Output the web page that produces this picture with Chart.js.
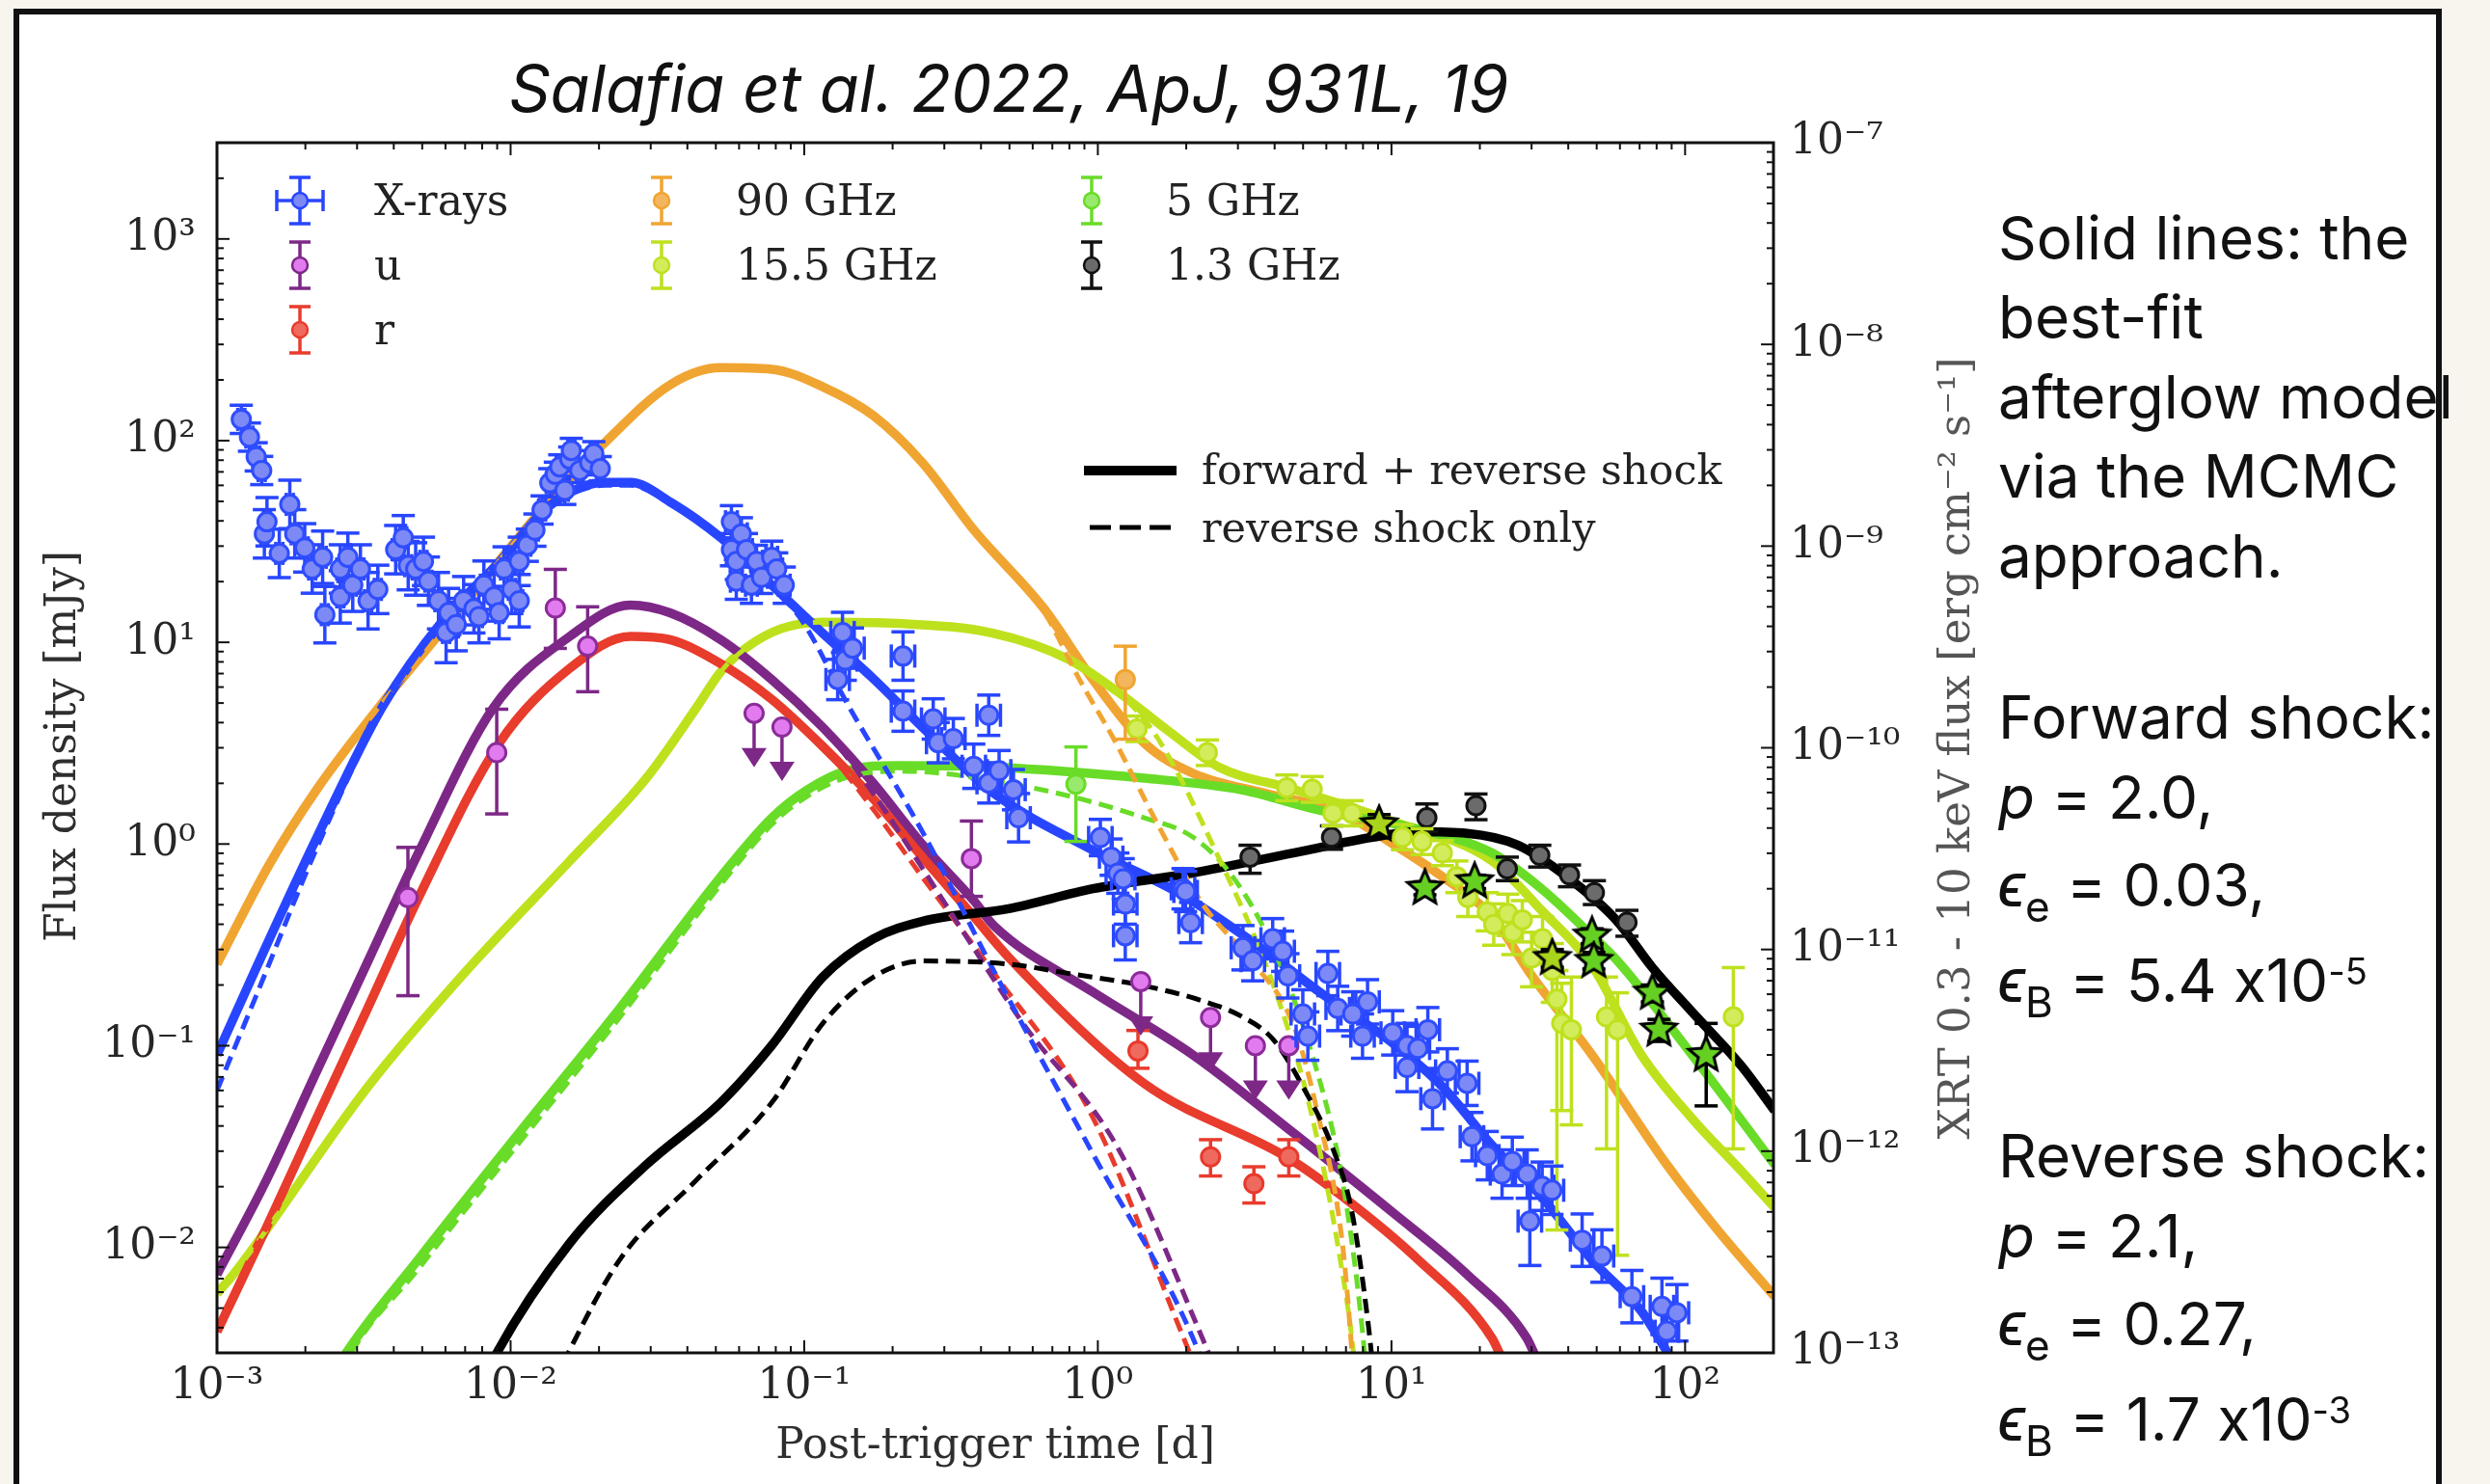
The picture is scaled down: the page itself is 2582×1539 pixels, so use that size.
<!DOCTYPE html>
<html lang="en">
<head>
<meta charset="utf-8">
<title>Afterglow light curve</title>
<script src="https://cdn.jsdelivr.net/npm/chart.js@4.4.1/dist/chart.umd.min.js"></script>
<style>
  html, body { margin: 0; padding: 0; }
  body { width: 2582px; height: 1539px; background: #f8f5ee; position: relative; overflow: hidden; }
  #panel { position: absolute; left: 14px; top: 9px; width: 2518px; height: 1600px; box-sizing: border-box; border: 6px solid #111; background: #fff; }
  #plot { position: absolute; left: 0; top: 0; }
  .ref { position: absolute; left: 1046px; top: 58px; transform: translateX(-50%); font: italic 67px Inter, "Noto Sans", "DejaVu Sans", sans-serif; line-height: 1; color: #111; white-space: nowrap; }
  .note { position: absolute; left: 2072px; font: 62px Inter, "Noto Sans", "DejaVu Sans", sans-serif; line-height: 1; color: #111; white-space: nowrap; font-feature-settings: "calt" 0; }
  .note i { font-style: italic; }
  .note .sb { position: relative; top: 16px; font-size: 44px; }
  .note .sp { position: relative; top: -18px; font-size: 38px; }
</style>
</head>
<body>
<div id="panel"></div>
<canvas id="plot" width="2582" height="1539"></canvas>
<div class="ref">Salafia et al. 2022, ApJ, 931L, 19</div>
<div class="note" style="top:216px">Solid lines: the</div>
<div class="note" style="top:298px">best-fit</div>
<div class="note" style="top:381px">afterglow model</div>
<div class="note" style="top:463px">via the MCMC</div>
<div class="note" style="top:546px">approach.</div>
<div class="note" style="top:713px">Forward shock:</div>
<div class="note" style="top:796px"><i>p</i> = 2.0,</div>
<div class="note" style="top:887px"><i>ϵ</i><span class="sb">e</span> = 0.03,</div>
<div class="note" style="top:986px"><i>ϵ</i><span class="sb">B</span> = 5.4 x10<span class="sp">-5</span></div>
<div class="note" style="top:1168px">Reverse shock:</div>
<div class="note" style="top:1251px"><i>p</i> = 2.1,</div>
<div class="note" style="top:1342px"><i>ϵ</i><span class="sb">e</span> = 0.27,</div>
<div class="note" style="top:1441px"><i>ϵ</i><span class="sb">B</span> = 1.7 x10<span class="sp">-3</span></div>
<script>
// ---- axis ticks ----
const timeDecades = [1e-3, 1e-2, 1e-1, 1, 10, 100];
const timeTickLabels = ['10⁻³', '10⁻²', '10⁻¹', '10⁰', '10¹', '10²'];
const fluxDecades = [1e-2, 1e-1, 1, 10, 100, 1000];
const fluxTickLabels = ['10⁻²', '10⁻¹', '10⁰', '10¹', '10²', '10³'];
const xrtDecades = [1e-13, 1e-12, 1e-11, 1e-10, 1e-9, 1e-8, 1e-7];
const xrtTickLabels = ['10⁻¹³', '10⁻¹²', '10⁻¹¹', '10⁻¹⁰', '10⁻⁹', '10⁻⁸', '10⁻⁷'];

// ---- XRT 0.3-10 keV light curve (days, erg cm^-2 s^-1, errors in dex) ----
const xrayTime = [
  0.00121, 0.00129, 0.00136, 0.00142, 0.00145, 0.00148, 0.00163, 0.00177, 0.00184, 0.00199,
  0.00211, 0.00229, 0.00233, 0.00263, 0.00263, 0.00279, 0.0029, 0.00308, 0.00327, 0.00353,
  0.00406, 0.00431, 0.00448, 0.00475, 0.00505, 0.00525, 0.00568, 0.00603, 0.00615, 0.00653,
  0.00692, 0.0075, 0.0078, 0.00811, 0.00879, 0.00914, 0.0095, 0.0101, 0.0107, 0.0107,
  0.0114, 0.0121, 0.0128, 0.0136, 0.0142, 0.0147, 0.0153, 0.0159, 0.0161, 0.0172,
  0.0186, 0.0192, 0.0202,
  0.0565, 0.0565, 0.0587, 0.0587, 0.0611, 0.0636, 0.0661, 0.0688, 0.0716, 0.0775, 0.0806, 0.0855,
  0.130, 0.135, 0.138, 0.146, 0.217, 0.217, 0.275, 0.286, 0.322, 0.378, 0.425, 0.425, 0.461, 0.516, 0.537,
  1.02, 1.11, 1.17, 1.22, 1.24, 1.24, 1.95, 1.99, 2.07, 3.12, 3.37, 3.94, 4.26, 4.44, 4.99, 5.19, 6.07, 6.56, 7.38, 7.97, 8.29,
  10.1, 11.3, 11.3, 12.3, 13.3, 13.8, 15.5, 18.1, 18.8, 21.2, 23.8, 25.8, 29.0, 29.6, 32.6, 35.2, 44.6, 52.1, 65.9, 83.4, 86.7, 93.8
];
const xrayFlux = [
  4.25e-9, 3.47e-9, 2.77e-9, 2.37e-9, 1.15e-9, 1.32e-9, 9.2e-10, 1.61e-9, 1.15e-9, 9.8e-10,
  7.7e-10, 8.8e-10, 4.57e-10, 7.7e-10, 5.6e-10, 8.8e-10, 6.4e-10, 7.7e-10, 5.36e-10, 6.1e-10,
  9.6e-10, 1.1e-9, 8.0e-10, 7.7e-10, 8.4e-10, 6.7e-10, 5.36e-10, 3.73e-10, 4.68e-10, 4.08e-10,
  5.36e-10, 4.89e-10, 4.47e-10, 6.4e-10, 5.6e-10, 4.68e-10, 7.7e-10, 6.1e-10, 8.4e-10, 5.36e-10,
  1.01e-9, 1.2e-9, 1.51e-9, 2.06e-9, 2.27e-9, 2.47e-9, 1.89e-9, 2.7e-9, 2.98e-9, 2.37e-9,
  2.59e-9, 2.87e-9, 2.42e-9,
  1.32e-9, 9.6e-10, 8.4e-10, 6.7e-10, 1.15e-9, 9.6e-10, 6.4e-10, 8.4e-10, 7.0e-10, 8.8e-10, 7.7e-10, 6.4e-10,
  2.18e-10, 3.73e-10, 2.72e-10, 3.12e-10, 2.85e-10, 1.52e-10, 1.39e-10, 1.06e-10, 1.11e-10, 8.1e-11, 1.45e-10, 6.7e-11, 7.7e-11, 6.2e-11, 4.5e-11,
  3.59e-11, 2.87e-11, 2.39e-11, 2.24e-11, 1.68e-11, 1.17e-11, 2.0e-11, 1.94e-11, 1.36e-11, 1.02e-11, 8.8e-12, 1.13e-11, 9.8e-12, 7.4e-12, 4.79e-12, 3.72e-12, 7.6e-12, 5.1e-12, 4.79e-12, 3.72e-12, 5.5e-12,
  3.86e-12, 3.34e-12, 2.6e-12, 3.23e-12, 4.0e-12, 1.82e-12, 2.5e-12, 2.17e-12, 1.18e-12, 9.5e-13, 7.7e-13, 8.9e-13, 7.7e-13, 4.5e-13, 6.7e-13, 6.4e-13, 3.62e-13, 3.02e-13, 1.9e-13, 1.7e-13, 1.28e-13, 1.58e-13
];
const xrayFluxErr = [
  0.07, 0.07, 0.07, 0.07, 0.12, 0.12, 0.12, 0.12, 0.12, 0.12,
  0.12, 0.13, 0.14, 0.12, 0.13, 0.12, 0.13, 0.12, 0.14, 0.12,
  0.12, 0.11, 0.12, 0.13, 0.12, 0.12, 0.14, 0.15, 0.12, 0.13,
  0.12, 0.12, 0.13, 0.12, 0.12, 0.13, 0.11, 0.12, 0.12, 0.13,
  0.08, 0.08, 0.07, 0.07, 0.06, 0.06, 0.07, 0.06, 0.06, 0.06,
  0.06, 0.06, 0.06,
  0.08, 0.08, 0.09, 0.09, 0.08, 0.08, 0.09, 0.08, 0.08, 0.08, 0.08, 0.09,
  0.10, 0.10, 0.10, 0.10, 0.12, 0.10, 0.10, 0.10, 0.10, 0.11, 0.10, 0.10, 0.10, 0.10, 0.12,
  0.09, 0.09, 0.10, 0.10, 0.10, 0.12, 0.10, 0.10, 0.10, 0.11, 0.10, 0.10, 0.10, 0.11, 0.12, 0.12, 0.11, 0.11, 0.11, 0.11, 0.11,
  0.11, 0.11, 0.12, 0.11, 0.11, 0.15, 0.11, 0.11, 0.12, 0.12, 0.12, 0.12, 0.12, 0.22, 0.12, 0.12, 0.13, 0.13, 0.13, 0.14, 0.14, 0.14
];
const xrayTimeErr = [
  0.012, 0.012, 0.012, 0.012, 0.012, 0.012, 0.012, 0.012, 0.012, 0.012,
  0.012, 0.012, 0.012, 0.012, 0.012, 0.012, 0.012, 0.012, 0.012, 0.012,
  0.012, 0.012, 0.012, 0.012, 0.012, 0.012, 0.012, 0.012, 0.012, 0.012,
  0.012, 0.012, 0.012, 0.012, 0.012, 0.012, 0.012, 0.012, 0.012, 0.012,
  0.012, 0.012, 0.012, 0.012, 0.012, 0.012, 0.012, 0.012, 0.012, 0.012,
  0.012, 0.012, 0.012,
  0.02, 0.02, 0.02, 0.02, 0.02, 0.02, 0.02, 0.02, 0.02, 0.02, 0.02, 0.02,
  0.04, 0.04, 0.04, 0.04, 0.04, 0.04, 0.04, 0.04, 0.04, 0.04, 0.04, 0.04, 0.04, 0.04, 0.04,
  0.04, 0.04, 0.04, 0.04, 0.04, 0.04, 0.04, 0.04, 0.04, 0.04, 0.04, 0.04, 0.04, 0.04, 0.04, 0.04, 0.04, 0.04, 0.04, 0.04, 0.04,
  0.04, 0.04, 0.04, 0.04, 0.04, 0.04, 0.04, 0.04, 0.04, 0.04, 0.04, 0.04, 0.04, 0.04, 0.04, 0.04, 0.04, 0.04, 0.04, 0.04, 0.04, 0.04
];

// ---- optical u and r (mJy) ----
const uTime = [0.00447, 0.00897, 0.0142, 0.0183, 0.371];
const uFlux = [0.543, 2.84, 14.8, 9.57, 0.847];
const uLow = [0.177, 1.41, 9.33, 5.69, 0.55];
const uHigh = [0.962, 4.66, 23.0, 15.0, 1.30];
const uLimitTime = [0.0675, 0.0840, 1.40, 2.42, 3.44, 4.47];
const uLimitFlux = [4.45, 3.80, 0.208, 0.138, 0.100, 0.100];

const rTime = [1.37, 2.42, 3.40, 4.47];
const rFlux = [0.0942, 0.0281, 0.0207, 0.0281];
const rLow = [0.0773, 0.0226, 0.0166, 0.0226];
const rHigh = [0.119, 0.0342, 0.0251, 0.0342];

// ---- radio / mm (mJy) ----
const ghz90Time = [1.24];
const ghz90Flux = [6.53];
const ghz90Low = [3.31];
const ghz90High = [9.57];

const ghz15Time = [1.36, 2.36, 4.40, 5.37, 6.32, 7.34, 10.9, 12.7, 14.9, 16.7, 18.2, 21.2, 22.3, 24.9, 25.9, 27.9, 30.0, 32.7, 35.3, 36.6, 38.0, 41.0, 54.0, 58.9, 146];
const ghz15Flux = [3.72, 2.84, 1.90, 1.87, 1.42, 1.42, 1.08, 1.03, 0.903, 0.689, 0.543, 0.461, 0.399, 0.453, 0.365, 0.421, 0.272, 0.339, 0.236, 0.170, 0.129, 0.120, 0.139, 0.120, 0.139];
const ghz15Low = [3.22, 2.45, 1.64, 1.61, 1.23, 1.23, 0.937, 0.887, 0.781, 0.574, 0.437, 0.371, 0.315, 0.352, 0.283, 0.327, 0.196, 0.254, 0.164, 0.0122, 0.0477, 0.0405, 0.0308, 0.00914, 0.0308];
const ghz15High = [4.31, 3.28, 2.20, 2.16, 1.64, 1.64, 1.25, 1.19, 1.04, 0.824, 0.652, 0.574, 0.505, 0.564, 0.461, 0.524, 0.365, 0.437, 0.321, 0.236, 0.204, 0.219, 0.219, 0.183, 0.244];
const ghz15StarTime = [9.08, 35.3];
const ghz15StarFlux = [1.25, 0.272];
const ghz15StarLow = [1.12, 0.245];
const ghz15StarHigh = [1.40, 0.30];

const ghz5Time = [0.842];
const ghz5Flux = [1.98];
const ghz5Low = [1.03];
const ghz5High = [3.03];
const ghz5StarTime = [13.0, 19.2, 48.2, 48.9, 77.4, 81.5, 118];
const ghz5StarFlux = [0.605, 0.652, 0.351, 0.263, 0.183, 0.120, 0.090];
const ghz5StarLow = [0.56, 0.60, 0.32, 0.24, 0.165, 0.105, 0.0503];
const ghz5StarHigh = [0.65, 0.70, 0.38, 0.29, 0.20, 0.135, 0.129];

const ghz1Time = [3.30, 6.25, 13.2, 19.4, 24.8, 32.0, 40.4, 49.1, 63.4];
const ghz1Flux = [0.861, 1.08, 1.35, 1.55, 0.753, 0.879, 0.703, 0.574, 0.409];
const ghz1Low = [0.716, 0.942, 1.15, 1.32, 0.658, 0.769, 0.614, 0.501, 0.349];
const ghz1High = [0.986, 1.23, 1.58, 1.77, 0.861, 0.986, 0.787, 0.658, 0.469];

// ---- best-fit model curves [days, flux] ----
const modelXray = [[0.001, 3.0e-12], [0.00136, 8.1e-12], [0.00219, 3.6e-11], [0.00366, 1.6e-10], [0.00587, 4.27e-10], [0.0092, 8.4e-10], [0.01355, 1.58e-9], [0.021, 2.07e-9], [0.0256, 2.07e-9], [0.0353, 1.64e-9], [0.052, 1.1e-9], [0.0776, 6.4e-10], [0.1156, 3.7e-10], [0.172, 2.2e-10], [0.2535, 1.26e-10], [0.439, 6.0e-11], [0.962, 3.1e-11], [1.96, 1.85e-11], [3.43, 1.07e-11], [5.65, 6.2e-12], [10.0, 3.47e-12], [14.9, 2.09e-12], [22.0, 1.07e-12], [32.4, 5.96e-13], [48.2, 2.88e-13], [71.0, 1.61e-13], [87.7, 9.9e-14], [110, 6.0e-14]];
const modelXrayRS = [[0.001, 2.0e-12], [0.00136, 5.9e-12], [0.00219, 3.2e-11], [0.00366, 1.55e-10], [0.00587, 4.2e-10], [0.0092, 8.2e-10], [0.01355, 1.55e-9], [0.021, 2.0e-9], [0.0256, 2.0e-9], [0.0353, 1.6e-9], [0.052, 1.08e-9], [0.0776, 6.3e-10], [0.0983, 4.27e-10], [0.141, 1.63e-10], [0.2535, 3.8e-11], [0.439, 8.0e-12], [0.962, 9.7e-13], [2.11, 1.18e-13], [2.6, 5e-14]];
const modelU = [[0.001, 0.00734], [0.00147, 0.0214], [0.00219, 0.075], [0.00327, 0.263], [0.00488, 0.92], [0.00875, 4.75], [0.0159, 10.7], [0.0256, 15.3], [0.0349, 14.0], [0.052, 10.3], [0.0776, 6.53], [0.1156, 3.79], [0.171, 2.02], [0.2535, 0.988], [0.378, 0.524], [0.444, 0.392], [0.962, 0.1845], [2.11, 0.090], [4.63, 0.037], [10.1, 0.0149], [18.1, 0.00734], [28.9, 0.00355], [31.2, 0.0028]];
const modelURS = [[0.001, 0.00734], [0.00147, 0.0214], [0.00219, 0.075], [0.00327, 0.263], [0.00488, 0.92], [0.00875, 4.75], [0.0159, 10.7], [0.0256, 15.3], [0.0349, 14.0], [0.052, 10.3], [0.0776, 6.53], [0.1156, 3.79], [0.171, 1.80], [0.2535, 0.753], [0.378, 0.304], [0.556, 0.129], [1.175, 0.0308], [2.27, 0.00355], [2.48, 0.0026]];
const modelR = [[0.001, 0.00382], [0.00147, 0.01245], [0.00219, 0.044], [0.00327, 0.155], [0.00488, 0.55], [0.00914, 3.16], [0.0159, 7.43], [0.0256, 10.7], [0.0349, 10.3], [0.052, 7.83], [0.0776, 5.21], [0.1156, 3.05], [0.171, 1.69], [0.2535, 0.855], [0.378, 0.437], [0.494, 0.277], [1.44, 0.0649], [4.46, 0.0277], [6.81, 0.0179], [12.2, 0.00881], [22.0, 0.00355], [23.8, 0.0028]];
const modelRRS = [[0.001, 0.00382], [0.00147, 0.01245], [0.00219, 0.044], [0.00327, 0.155], [0.00488, 0.55], [0.00914, 3.16], [0.0159, 7.43], [0.0256, 10.7], [0.0349, 10.3], [0.052, 7.83], [0.0776, 5.21], [0.1156, 3.05], [0.171, 1.50], [0.2535, 0.68], [0.442, 0.23], [0.962, 0.044], [1.96, 0.00355], [2.14, 0.0026]];
const model90 = [[0.001, 0.254], [0.00151, 0.796], [0.00219, 1.87], [0.00361, 4.89], [0.00545, 10.1], [0.00864, 22.9], [0.01337, 49.1], [0.0202, 92.7], [0.0353, 191], [0.052, 230], [0.0776, 226], [0.1156, 185], [0.172, 133], [0.2535, 77.3], [0.378, 36.1], [0.653, 14.8], [0.962, 6.53], [1.44, 3.16], [2.11, 2.24], [3.79, 1.77], [6.81, 1.42], [9.31, 1.08], [14.9, 0.689], [22.0, 0.437], [30.0, 0.223], [48.2, 0.090], [86.7, 0.0257], [127.6, 0.01245], [202, 0.0057]];
const model90RS = [[0.001, 0.254], [0.00151, 0.796], [0.00219, 1.87], [0.00361, 4.89], [0.00545, 10.1], [0.00864, 22.9], [0.01337, 49.1], [0.0202, 92.7], [0.0353, 191], [0.052, 230], [0.0776, 226], [0.1156, 185], [0.172, 133], [0.2535, 77.3], [0.378, 36.1], [0.653, 14.3], [0.871, 6.43], [1.13, 3.34], [1.60, 1.25], [2.27, 0.505], [3.11, 0.293], [4.63, 0.127], [5.58, 0.0476], [6.81, 0.0104], [7.34, 0.00296], [7.62, 0.00126]];
const model15 = [[0.001, 0.0059], [0.00116, 0.00762], [0.00327, 0.0627], [0.00716, 0.240], [0.0159, 0.824], [0.029, 2.12], [0.0432, 4.80], [0.052, 7.16], [0.0635, 9.4], [0.0836, 11.7], [0.1156, 12.6], [0.210, 12.4], [0.439, 11.1], [0.788, 8.28], [1.175, 5.65], [1.73, 3.66], [2.58, 2.41], [4.63, 1.87], [10.0, 1.30], [22.0, 0.824], [32.4, 0.470], [48.2, 0.249], [71.0, 0.090], [105.7, 0.0435], [155.6, 0.0239], [202, 0.0157]];
const model15RS = [[0.001, 0.0059], [0.00116, 0.00762], [0.00327, 0.0627], [0.00716, 0.240], [0.0159, 0.824], [0.029, 2.12], [0.0432, 4.80], [0.052, 7.16], [0.0635, 9.4], [0.0836, 11.7], [0.1156, 12.6], [0.210, 12.4], [0.439, 11.1], [0.788, 8.28], [1.175, 5.65], [1.60, 3.34], [2.58, 0.855], [3.94, 0.204], [5.31, 0.0476], [6.64, 0.0093], [7.43, 0.00296], [7.80, 0.00126]];
const model5 = [[0.0024, 0.0021], [0.00268, 0.00282], [0.00488, 0.00881], [0.0107, 0.037], [0.0237, 0.155], [0.052, 0.689], [0.0776, 1.35], [0.102, 1.85], [0.141, 2.32], [0.208, 2.45], [0.439, 2.41], [1.44, 2.12], [3.11, 1.85], [5.58, 1.48], [12.2, 1.19], [22.0, 0.903], [32.7, 0.594], [48.2, 0.351], [58.9, 0.263], [105.7, 0.090], [202, 0.0257]];
const model5RS = [[0.0025, 0.0019], [0.00268, 0.0025], [0.00488, 0.0079], [0.0107, 0.033], [0.0237, 0.14], [0.052, 0.63], [0.0776, 1.25], [0.102, 1.72], [0.141, 2.15], [0.208, 2.3], [0.556, 1.94], [1.44, 1.35], [2.11, 1.08], [2.88, 0.689], [3.89, 0.321], [5.37, 0.090], [6.81, 0.0214], [8.01, 0.00355], [8.32, 0.0018]];
const model1 = [[0.008, 0.0021], [0.00875, 0.0028], [0.0159, 0.0105], [0.029, 0.0257], [0.052, 0.0523], [0.0776, 0.1005], [0.1156, 0.219], [0.172, 0.339], [0.2535, 0.414], [0.497, 0.478], [0.962, 0.600], [2.11, 0.719], [4.63, 0.903], [8.63, 1.08], [12.2, 1.15], [18.1, 1.13], [26.9, 0.988], [39.5, 0.689], [58.1, 0.422], [77.4, 0.244], [105.7, 0.147], [155.6, 0.0793], [202, 0.0476]];
const model1RS = [[0.014, 0.0021], [0.01535, 0.0028], [0.0237, 0.00881], [0.0427, 0.0214], [0.0776, 0.0523], [0.1156, 0.129], [0.172, 0.219], [0.2535, 0.263], [0.497, 0.254], [0.798, 0.228], [1.44, 0.198], [2.27, 0.167], [3.11, 0.139], [3.94, 0.108], [4.99, 0.0627], [6.32, 0.0308], [7.34, 0.0149], [8.32, 0.00426], [8.63, 0.0026]];

// ---- colours ----
const BLUE = '#2846ff', PURPLE = '#7d2887', RED = '#e83c2d', ORANGE = '#f0a532',
      LIME = '#bee11e', GREEN = '#69dc28', BLACK = '#000000';

// ---- helpers ----
function logTicks(min, max) {
  const out = [];
  for (let e = Math.floor(Math.log10(min)); e <= Math.ceil(Math.log10(max)); e++) {
    for (let m = 1; m <= 9; m++) {
      const v = m * Math.pow(10, e);
      if (v >= min * 0.999999 && v <= max * 1.000001) out.push({ value: v });
    }
  }
  return out;
}
function decadeLabel(v, decades, labels) {
  const i = decades.findIndex(d => Math.abs(Math.log10(v) - Math.log10(d)) < 1e-6);
  return i < 0 ? '' : labels[i];
}
function isDecade(v) {
  const l = Math.log10(v);
  return Math.abs(l - Math.round(l)) < 1e-6;
}
function seg(ctx, x0, y0, x1, y1) {
  ctx.beginPath(); ctx.moveTo(x0, y0); ctx.lineTo(x1, y1); ctx.stroke();
}
function withBars(t, f, lo, hi) {
  return t.map((x, i) => ({ x, y: f[i], lo: lo[i], hi: hi[i] }));
}
function starImage(fill, r) {
  const c = document.createElement('canvas');
  const s = Math.ceil(2 * r + 6);
  c.width = c.height = s;
  const g = c.getContext('2d');
  g.beginPath();
  for (let k = 0; k < 10; k++) {
    const rad = k % 2 ? r * 0.45 : r;
    const a = -Math.PI / 2 + k * Math.PI / 5;
    g.lineTo(s / 2 + rad * Math.cos(a), s / 2 + rad * Math.sin(a));
  }
  g.closePath();
  g.fillStyle = fill; g.fill();
  g.lineWidth = 3; g.strokeStyle = '#000'; g.stroke();
  return c;
}

const xrayPoints = xrayTime.map((t, i) => ({
  x: t, y: xrayFlux[i],
  lo: xrayFlux[i] / Math.pow(10, xrayFluxErr[i]), hi: xrayFlux[i] * Math.pow(10, xrayFluxErr[i]),
  tlo: t / Math.pow(10, xrayTimeErr[i]), thi: t * Math.pow(10, xrayTimeErr[i])
}));

function modelLine(label, pts, color, dashed, order, axis) {
  return {
    type: 'line', label, data: pts.map(p => ({ x: p[0], y: p[1] })),
    borderColor: color, borderWidth: dashed ? 5 : 9.5, borderDash: dashed ? [15, 8] : [],
    pointRadius: 0, fill: false, cubicInterpolationMode: 'monotone',
    yAxisID: axis || 'y', order, clip: 0
  };
}
function pointSet(label, data, fill, edge, bar, order, extra) {
  return Object.assign({
    type: 'scatter', label, data, yAxisID: 'y', order, clip: 0,
    backgroundColor: fill, borderColor: edge, borderWidth: 3, pointRadius: 9.5,
    barColor: bar
  }, extra || {});
}

const datasets = [
  // data points
  pointSet('X-rays', xrayPoints, '#7d8af5', '#2f4dff', BLUE, 1, { yAxisID: 'y2' }),
  pointSet('u', withBars(uTime, uFlux, uLow, uHigh), '#e27bf0', '#8b2c98', PURPLE, 2),
  pointSet('u (upper limits)', uLimitTime.map((x, i) => ({ x, y: uLimitFlux[i] })), '#e27bf0', '#8b2c98', PURPLE, 2, { upperLimit: true }),
  pointSet('r', withBars(rTime, rFlux, rLow, rHigh), '#ef6a5e', '#e8392c', RED, 2),
  pointSet('90 GHz', withBars(ghz90Time, ghz90Flux, ghz90Low, ghz90High), '#f3b65e', ORANGE, ORANGE, 2),
  pointSet('15.5 GHz', withBars(ghz15Time, ghz15Flux, ghz15Low, ghz15High), '#d3ec5c', LIME, LIME, 2),
  pointSet('5 GHz', withBars(ghz5Time, ghz5Flux, ghz5Low, ghz5High), '#98ea6c', GREEN, GREEN, 2),
  pointSet('1.3 GHz', withBars(ghz1Time, ghz1Flux, ghz1Low, ghz1High), '#6b6b6b', '#111', '#111', 2),
  pointSet('15.5 GHz (stars)', withBars(ghz15StarTime, ghz15StarFlux, ghz15StarLow, ghz15StarHigh), LIME, '#000', '#000', 0,
    { pointStyle: starImage('#a9d41c', 19) }),
  pointSet('5 GHz (stars)', withBars(ghz5StarTime, ghz5StarFlux, ghz5StarLow, ghz5StarHigh), GREEN, '#000', '#000', 0,
    { pointStyle: starImage('#66d022', 19) }),
  // reverse shock only
  modelLine('X-rays RS', modelXrayRS, BLUE, true, 10, 'y2'),
  modelLine('u RS', modelURS, PURPLE, true, 10),
  modelLine('r RS', modelRRS, RED, true, 10),
  modelLine('90 GHz RS', model90RS, ORANGE, true, 10),
  modelLine('15.5 GHz RS', model15RS, LIME, true, 10),
  modelLine('5 GHz RS', model5RS, GREEN, true, 10),
  modelLine('1.3 GHz RS', model1RS, BLACK, true, 9),
  // forward + reverse shock
  modelLine('1.3 GHz model', model1, BLACK, false, 20),
  modelLine('X-rays model', modelXray, BLUE, false, 21, 'y2'),
  modelLine('r model', modelR, RED, false, 22),
  modelLine('u model', modelU, PURPLE, false, 23),
  modelLine('5 GHz model', model5, GREEN, false, 24),
  modelLine('15.5 GHz model', model15, LIME, false, 25),
  modelLine('90 GHz model', model90, ORANGE, false, 26)
];

// error bars and upper-limit arrows, drawn under each marker set
const errorBars = {
  id: 'errorBars',
  beforeDatasetDraw(chart, args) {
    const ds = chart.data.datasets[args.index];
    if (!ds.barColor) return;
    const { ctx, chartArea: a } = chart;
    const xs = chart.scales.x, ys = chart.scales[ds.yAxisID];
    const cap = 12;
    ctx.save();
    ctx.beginPath(); ctx.rect(a.left, a.top, a.right - a.left, a.bottom - a.top); ctx.clip();
    ctx.strokeStyle = ds.barColor; ctx.fillStyle = ds.barColor; ctx.lineWidth = 3.5;
    ds.data.forEach(d => {
      const px = xs.getPixelForValue(d.x), py = ys.getPixelForValue(d.y);
      if (ds.upperLimit) {
        const tip = py + 56;
        seg(ctx, px, py, px, tip - 18);
        ctx.beginPath(); ctx.moveTo(px - 13, tip - 20); ctx.lineTo(px + 13, tip - 20); ctx.lineTo(px, tip); ctx.closePath(); ctx.fill();
        return;
      }
      if (d.lo !== undefined) {
        const y0 = ys.getPixelForValue(d.lo), y1 = ys.getPixelForValue(d.hi);
        seg(ctx, px, y0, px, y1);
        seg(ctx, px - cap, y0, px + cap, y0);
        seg(ctx, px - cap, y1, px + cap, y1);
      }
      if (d.tlo !== undefined) {
        const x0 = xs.getPixelForValue(d.tlo), x1 = xs.getPixelForValue(d.thi);
        seg(ctx, x0, py, x1, py);
        seg(ctx, x0, py - cap, x0, py + cap);
        seg(ctx, x1, py - cap, x1, py + cap);
      }
    });
    ctx.restore();
  }
};

// spines, inward ticks, axis titles and the two legends
const decorations = {
  id: 'decorations',
  afterDraw(chart) {
    const { ctx, chartArea: a, scales } = chart;
    ctx.save();
    ctx.strokeStyle = '#111';
    ctx.lineWidth = 2;
    scales.x.ticks.forEach(t => {
      const p = scales.x.getPixelForValue(t.value), n = isDecade(t.value) ? 13 : 7;
      seg(ctx, p, a.bottom, p, a.bottom - n);
      seg(ctx, p, a.top, p, a.top + n);
    });
    scales.y.ticks.forEach(t => {
      const p = scales.y.getPixelForValue(t.value), n = isDecade(t.value) ? 13 : 7;
      seg(ctx, a.left, p, a.left + n, p);
    });
    scales.y2.ticks.forEach(t => {
      const p = scales.y2.getPixelForValue(t.value), n = isDecade(t.value) ? 13 : 7;
      seg(ctx, a.right, p, a.right - n, p);
    });
    ctx.lineWidth = 3;
    ctx.strokeRect(a.left, a.top, a.right - a.left, a.bottom - a.top);

    // axis titles
    ctx.textBaseline = 'alphabetic';
    ctx.textAlign = 'center';
    ctx.font = '44px "DejaVu Serif"';
    ctx.fillStyle = '#2e2e2e';
    ctx.fillText('Post-trigger time [d]', (a.left + a.right) / 2, 1512);
    ctx.save();
    ctx.translate(78, 774); ctx.rotate(-Math.PI / 2);
    ctx.fillText('Flux density [mJy]', 0, 0);
    ctx.restore();
    ctx.save();
    ctx.fillStyle = '#555';
    ctx.font = '45px "DejaVu Serif"';
    ctx.translate(2042, 776); ctx.rotate(-Math.PI / 2);
    ctx.fillText('XRT 0.3 - 10 keV flux [erg cm⁻² s⁻¹]', 0, 0);
    ctx.restore();

    // band legend
    const entries = [
      { label: 'X-rays', x: 311, y: 208, line: BLUE, fill: '#7d8af5', both: true },
      { label: 'u', x: 311, y: 275, line: PURPLE, fill: '#e27bf0' },
      { label: 'r', x: 311, y: 342, line: RED, fill: '#ef6a5e' },
      { label: '90 GHz', x: 686, y: 208, line: ORANGE, fill: '#f3b65e' },
      { label: '15.5 GHz', x: 686, y: 275, line: LIME, fill: '#d3ec5c' },
      { label: '5 GHz', x: 1132, y: 208, line: GREEN, fill: '#98ea6c' },
      { label: '1.3 GHz', x: 1132, y: 275, line: '#111', fill: '#6b6b6b' }
    ];
    ctx.textAlign = 'left';
    ctx.font = '44px "DejaVu Serif"';
    entries.forEach(e => {
      ctx.strokeStyle = e.line; ctx.lineWidth = 3.5;
      seg(ctx, e.x, e.y - 24, e.x, e.y + 24);
      seg(ctx, e.x - 11, e.y - 24, e.x + 11, e.y - 24);
      seg(ctx, e.x - 11, e.y + 24, e.x + 11, e.y + 24);
      if (e.both) {
        seg(ctx, e.x - 24, e.y, e.x + 24, e.y);
        seg(ctx, e.x - 24, e.y - 11, e.x - 24, e.y + 11);
        seg(ctx, e.x + 24, e.y - 11, e.x + 24, e.y + 11);
      }
      ctx.beginPath(); ctx.arc(e.x, e.y, 8, 0, 2 * Math.PI);
      ctx.fillStyle = e.fill; ctx.fill(); ctx.lineWidth = 2.5; ctx.stroke();
      ctx.fillStyle = '#222';
      ctx.fillText(e.label, e.x + 77, e.y + 15);
    });

    // line-style legend
    ctx.strokeStyle = '#000';
    ctx.lineWidth = 10;
    seg(ctx, 1124, 488, 1220, 488);
    ctx.lineWidth = 5;
    ctx.setLineDash([22, 9]);
    seg(ctx, 1130, 547, 1214, 547);
    ctx.setLineDash([]);
    ctx.fillStyle = '#222';
    ctx.font = '43px "DejaVu Serif"';
    ctx.fillText('forward + reverse shock', 1246, 502);
    ctx.fillText('reverse shock only', 1246, 562);
    ctx.restore();
  }
};

const tickFont = { family: 'DejaVu Serif', size: 44 };
const quietGrid = { display: false, drawTicks: false };

new Chart(document.getElementById('plot'), {
  type: 'scatter',
  data: { datasets },
  options: {
    responsive: false,
    animation: false,
    devicePixelRatio: 1,
    events: [],
    layout: { padding: { top: 148, left: 0, right: 0, bottom: 0 } },
    plugins: { legend: { display: false }, tooltip: { enabled: false } },
    scales: {
      x: {
        type: 'logarithmic', position: 'bottom', min: 1e-3, max: 200,
        grid: quietGrid, border: { display: false },
        afterBuildTicks: s => { s.ticks = logTicks(1e-3, 200); },
        afterFit: s => { s.height = 136; },
        ticks: { autoSkip: false, maxRotation: 0, minRotation: 0, padding: 9, color: '#262626', font: tickFont,
                 callback: v => decadeLabel(v, timeDecades, timeTickLabels) }
      },
      y: {
        type: 'logarithmic', position: 'left', min: 3e-3, max: 3e3,
        grid: quietGrid, border: { display: false },
        afterBuildTicks: s => { s.ticks = logTicks(3e-3, 3e3); },
        afterFit: s => { s.width = 225; },
        ticks: { autoSkip: false, padding: 22, color: '#262626', font: tickFont,
                 callback: v => decadeLabel(v, fluxDecades, fluxTickLabels) }
      },
      y2: {
        type: 'logarithmic', position: 'right', min: 1e-13, max: 1e-7,
        grid: quietGrid, border: { display: false },
        afterBuildTicks: s => { s.ticks = logTicks(1e-13, 1e-7); },
        afterFit: s => { s.width = 743; },
        ticks: { autoSkip: false, padding: 17, color: '#262626', font: tickFont,
                 callback: v => decadeLabel(v, xrtDecades, xrtTickLabels) }
      }
    }
  },
  plugins: [errorBars, decorations]
});
</script>
</body>
</html>
